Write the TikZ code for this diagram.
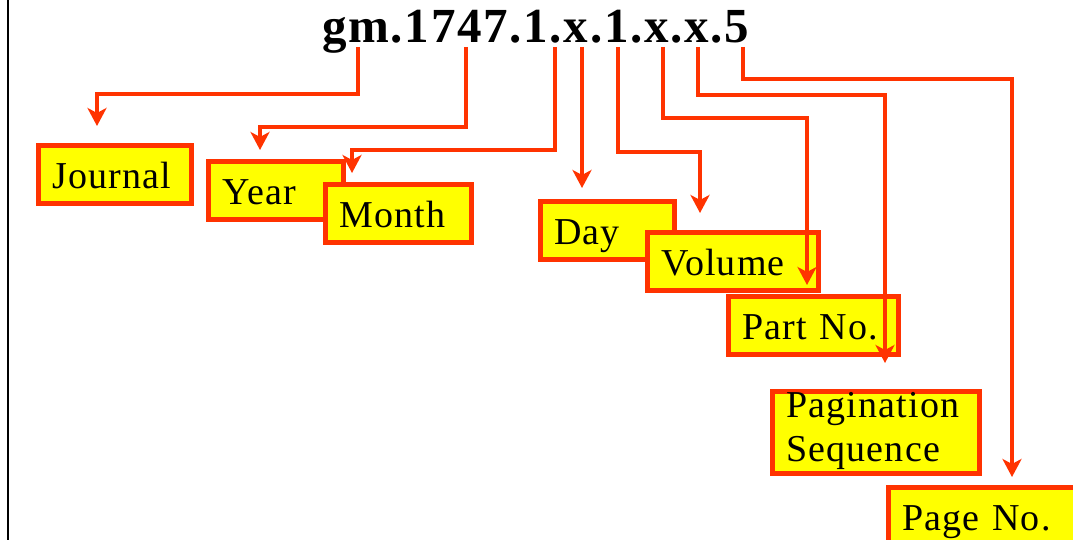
\documentclass[tikz,border=0pt]{standalone}
\usepackage{fontspec}
\setmainfont{Liberation Serif}
\newfontfamily\codefont{Liberation Serif}[LetterSpace=3.5]
\newfontfamily\tagfont{Liberation Serif}[LetterSpace=3]
\usetikzlibrary{arrows.meta}
\definecolor{linkred}{RGB}{255,51,0}
\definecolor{tagyellow}{RGB}{255,255,0}
\tikzset{>={Stealth[length=18pt,width=19pt,inset=5pt]}}

\begin{document}
\begin{tikzpicture}[x=1pt,y=-1pt,
  tag/.style={draw=linkred, line width=4.8pt, fill=tagyellow, anchor=north west,
    inner xsep=14pt, inner ysep=0pt, align=left,
    font=\tagfont\fontsize{38}{44}\selectfont, text height=43.5pt, text depth=14.5pt},
  link/.style={->, draw=linkred, line width=4.8pt}]
\useasboundingbox (0,0) rectangle (1073,540);
\draw[line width=2pt] (8,0) -- (8,247);
\draw[line width=1.3pt] (8,247) -- (8,540);

% the identifier
\node[anchor=base west, inner sep=0pt, font=\codefont\bfseries\fontsize{49}{56}\selectfont] (code) at (322,43) {gm.1747.1.x.1.x.x.5};

% the parts
\node[tag, text width=125pt] (journal) at (36,143) {Journal};
\node[tag, text width=107pt] (year) at (206,159) {Year};
\node[tag, text width=118pt] (month) at (323,182) {Month};
\node[tag, text width=106pt] (day) at (538,199) {Day};
\node[tag, text width=143pt] (volume) at (645,230) {Volume};
\node[tag, text width=142pt] (part) at (726,294) {Part No.};
\node[tag, text width=179pt, text height=26pt, text depth=56pt] (pagination) at (770,389) {Pagination\\Sequence};
\node[tag, text width=169pt] (page) at (886,485) {Page No.};

% start and end points
\coordinate (sJ) at (358,47); \coordinate (eJ) at (97,126);
\coordinate (sY) at (466,47); \coordinate (eY) at (260,150);
\coordinate (sM) at (555,47); \coordinate (eM) at (352,173);
\coordinate (sD) at (582,47); \coordinate (eD) at (582,188);
\coordinate (sV) at (618,47); \coordinate (eV) at (700,213);
\coordinate (sP) at (663,47); \coordinate (eP) at (807,285);
\coordinate (sS) at (698,47); \coordinate (eS) at (885,363);
\coordinate (sN) at (743,47); \coordinate (eN) at (1012,477);

\draw[link] (sJ) -- (sJ |- 0,94) -| (eJ);
\draw[link] (sY) -- (sY |- 0,127) -| (eY);
\draw[link] (sM) -- (sM |- 0,150) -| (eM);
\draw[link] (sD) -- (eD);
\draw[link] (sV) -- (sV |- 0,152) -| (eV);
\draw[link] (sP) -- (sP |- 0,118) -| (eP);
\draw[link] (sS) -- (sS |- 0,95) -| (eS);
\draw[link] (sN) -- (sN |- 0,79) -| (eN);
\end{tikzpicture}
\end{document}
